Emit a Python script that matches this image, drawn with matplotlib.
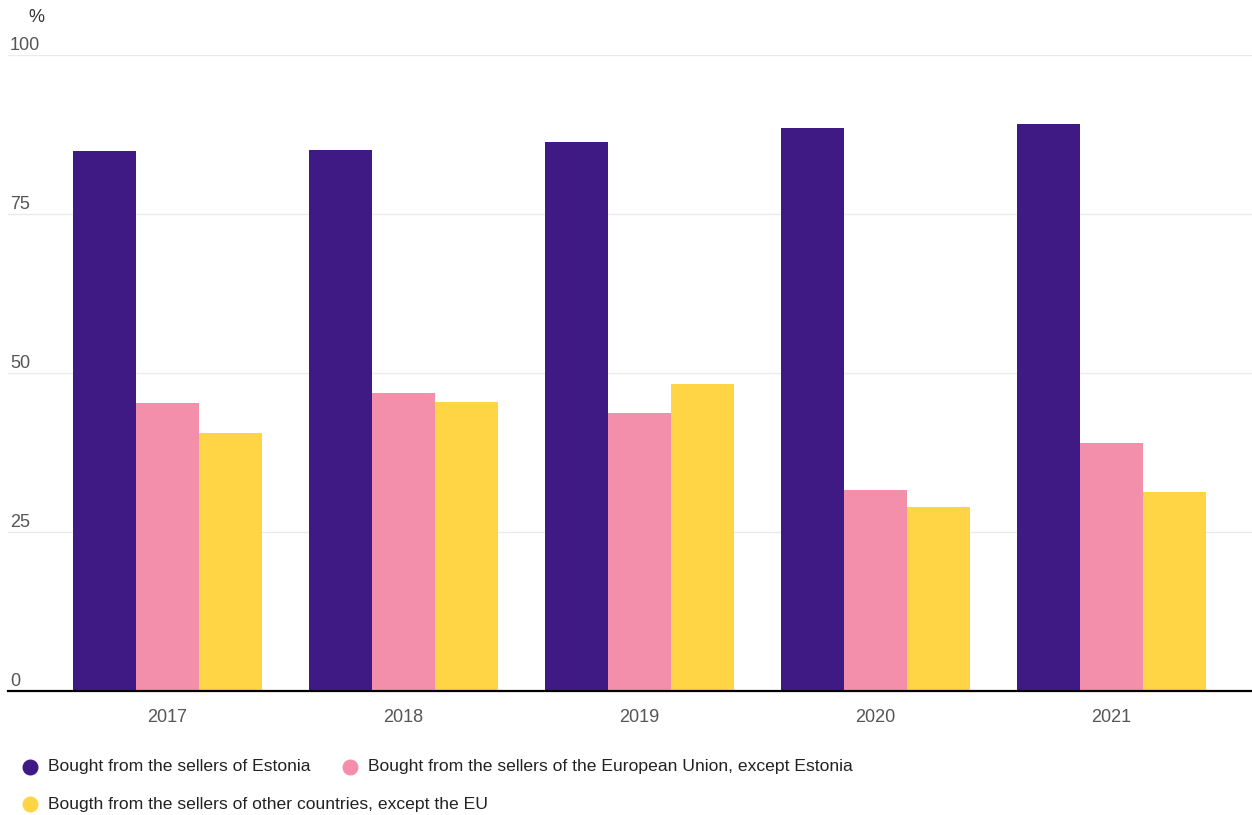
import numpy as np
import matplotlib.pyplot as plt
from matplotlib.lines import Line2D

plt.rcParams['font.family'] = ['Liberation Sans', 'DejaVu Sans']

years = ['2017', '2018', '2019', '2020', '2021']
estonia = [84.9, 85.1, 86.3, 88.5, 89.2]
eu = [45.3, 46.9, 43.7, 31.6, 39.0]
other = [40.6, 45.4, 48.3, 28.9, 31.3]

labels = ['Bought from the sellers of Estonia',
          'Bought from the sellers of the European Union, except Estonia',
          'Bougth from the sellers of other countries, except the EU']
colors = ['#3f1a84', '#f48fab', '#ffd545']

W, H = 1252, 815
fig = plt.figure(figsize=(W / 100, H / 100), dpi=100)
ax = fig.add_axes([8 / W, 124 / H, 1 - 8 / W, 636 / H])

x = np.arange(len(years))
w = 0.267
for i, (vals, c) in enumerate(zip([estonia, eu, other], colors)):
    ax.bar(x + (i - 1) * w, vals, width=w, color=c, zorder=2)

ax.set_xlim(-0.674, 4.597)
ax.set_ylim(0, 100)
ax.set_xticks(x)
ax.set_xticklabels(years, fontsize=13, color='#555555')
ax.tick_params(axis='x', length=0, pad=13)
ax.set_yticks([])
for v in [25, 50, 75, 100]:
    ax.axhline(v, color='#ebebeb', lw=1, zorder=1)
for v in [0, 25, 50, 75, 100]:
    ax.annotate(str(v), xy=(0, v), xycoords=('axes fraction', 'data'),
                xytext=(1.5, 0.8), textcoords='offset points',
                fontsize=13, color='#555555', ha='left', va='bottom')
ax.axhline(0, color='black', lw=1.6, zorder=3, clip_on=False)
fig.text(28 / W, 1 - 18 / H, '%', fontsize=13, color='#333333', ha='left', va='center')
for s in ax.spines.values():
    s.set_visible(False)

# legend drawn by hand: two items on the first row, one on the second
leg_pos = [(30, 767), (350, 767), (30, 804)]
for (px, py), lab, c in zip(leg_pos, labels, colors):
    fig.add_artist(Line2D([px / W], [1 - py / H], marker='o', linestyle='',
                          markersize=10.5, markerfacecolor=c, markeredgecolor=c,
                          transform=fig.transFigure))
    fig.text((px + 18) / W, 1 - py / H, lab, fontsize=12.6, color='#222222',
             ha='left', va='center')

fig.savefig('out.png', dpi=100)
